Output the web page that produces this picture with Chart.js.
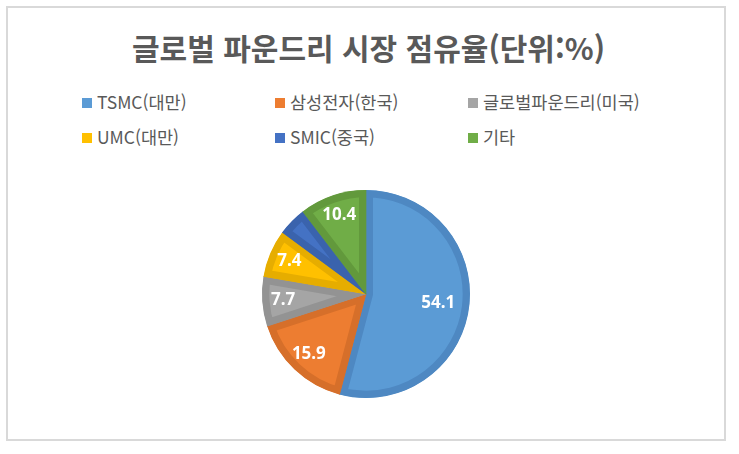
<!DOCTYPE html>
<html lang="ko">
<head>
    <meta charset="UTF-8">
    <title>글로벌 파운드리 시장 점유율</title>
    <script src="https://cdn.jsdelivr.net/npm/chart.js"></script>
    <style>
        body { margin: 0; background: #fff; }
        .wrap { position: relative; width: 739px; height: 454px; font-family: "Noto Sans CJK KR", "Noto Sans", sans-serif; }
        .frame { position: absolute; left: 6px; top: 6px; width: 716px; height: 431px; border: 2px solid #d9d9d9; }
        .title { position: absolute; left: 0; width: 737px; top: 27px; text-align: center; font-size: 30px; font-weight: 700; color: #595959; line-height: 40px; }
        .legend-item { position: absolute; font-size: 17.5px; color: #595959; line-height: 24px; white-space: nowrap; }
        .legend-item span { display: inline-block; width: 10px; height: 10px; margin-right: 5px; vertical-align: 1px; }
        canvas { position: absolute; left: 0; top: 0; }
    </style>
</head>
<body>
    <div class="wrap">
        <div class="frame"></div>
        <div class="title">글로벌 파운드리 시장 점유율(단위:%)</div>
        <div id="legend"></div>
        <canvas id="myChart" width="739" height="454"></canvas>
    </div>

    <script>
        const labels = ['TSMC(대만)', '삼성전자(한국)', '글로벌파운드리(미국)', 'UMC(대만)', 'SMIC(중국)', '기타'];
        const shares = [54.1, 15.9, 7.7, 7.4, 4.5, 10.4];
        const fillColors = ['#5B9BD5', '#ED7D31', '#A5A5A5', '#FFC000', '#4472C4', '#70AD47'];
        const lineColors = ['#4E88C2', '#D66F2A', '#939393', '#E6AD00', '#3A63AD', '#62993C'];

        // legend in 3 columns like the Excel one
        const legendBox = document.getElementById('legend');
        for (let i = 0; i < labels.length; i++) {
            const item = document.createElement('div');
            item.className = 'legend-item';
            item.style.left = (82 + (i % 3) * 193) + 'px';
            item.style.top = (90 + Math.floor(i / 3) * 35) + 'px';
            item.innerHTML = '<span style="background:' + fillColors[i] + '"></span>' + labels[i];
            legendBox.appendChild(item);
        }

        // values drawn inside the slices
        const sliceLabels = {
            id: 'sliceLabels',
            afterDatasetsDraw(chart) {
                const ctx = chart.ctx;
                const meta = chart.getDatasetMeta(0);
                ctx.save();
                ctx.font = 'bold 17px "Noto Sans", sans-serif';
                ctx.fillStyle = '#fff';
                ctx.textAlign = 'center';
                ctx.textBaseline = 'middle';
                meta.data.forEach((arc, i) => {
                    if (shares[i] < 5) return;
                    const p = arc.getProps(['x', 'y', 'startAngle', 'endAngle', 'outerRadius']);
                    const mid = (p.startAngle + p.endAngle) / 2;
                    const r = p.outerRadius * (shares[i] > 30 ? 0.7 : 0.8);
                    ctx.fillText(shares[i].toFixed(1), p.x + Math.cos(mid) * r, p.y + Math.sin(mid) * r);
                });
                ctx.restore();
            }
        };

        const ctx = document.getElementById('myChart').getContext('2d');
        new Chart(ctx, {
            type: 'pie',
            data: {
                labels: labels,
                datasets: [{
                    data: shares,
                    backgroundColor: fillColors,
                    borderColor: lineColors,
                    borderWidth: 7,
                    borderAlign: 'inner'
                }]
            },
            options: {
                responsive: false,
                animation: false,
                radius: 104,
                layout: {
                    padding: { left: 262, right: 269, top: 190, bottom: 56 }
                },
                plugins: {
                    legend: { display: false },
                    tooltip: { enabled: false }
                }
            },
            plugins: [sliceLabels]
        });
    </script>
</body>
</html>
